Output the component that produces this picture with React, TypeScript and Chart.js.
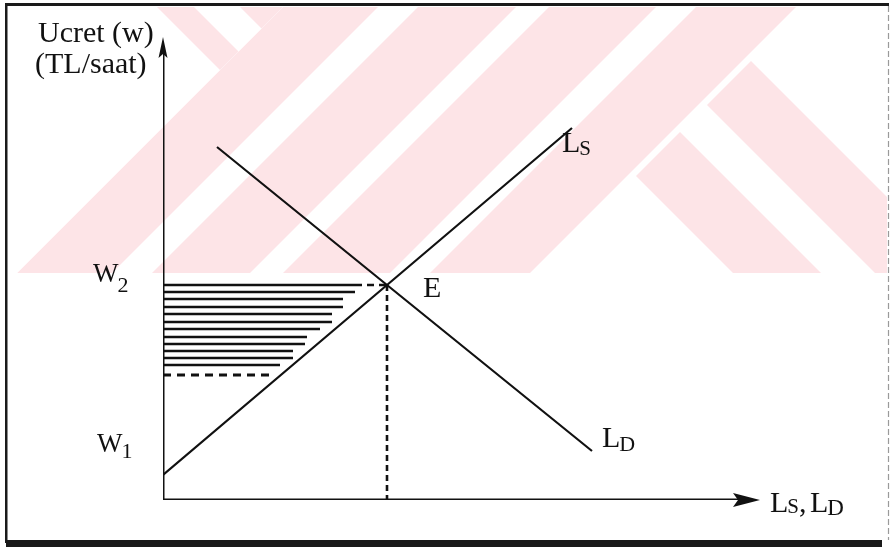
import React, { useEffect, useRef } from "react";
import { Chart, registerables } from "chart.js";

Chart.register(...registerables);

// ---- data (diagram units) ----
const LS_X = [0, 224, 409];
const LS_Y = [25, 215, 372];
const LD_X = [54, 224, 429];
const LD_Y = [353, 215, 49];
const E_POINT = [224, 215];
const W1 = 25;
const W2 = 215;
const HATCH_Y = [215, 208, 201, 193, 186, 178, 171, 163, 156, 149, 142, 135];
const HATCH_END = [192, 192, 180, 180, 169, 169, 157, 144, 142, 130, 130, 117];
const LOWER_DASH = [125, 112]; // y, end x
const X_AXIS_END = 597;
const Y_AXIS_END = 463;
const X_MAX = 600;
const Y_MAX = 465;

// watermark bands (x+y or x-y intercepts, page pixels)
const WM_A = [[150, 187], [233, 420]];
const WM_B = [[290, 385], [425, 523], [556, 663], [703, 803]];
const WM_C = [[460, 548], [602, 690]];

const SERIF = "'Liberation Serif', 'Times New Roman', serif";

function band(ctx: CanvasRenderingContext2D, c1: number, c2: number, dir: number) {
  const B = 1500;
  ctx.beginPath();
  if (dir > 0) {
    ctx.moveTo(c1 + B, -B);
    ctx.lineTo(c2 + B, -B);
    ctx.lineTo(c2 - B, B);
    ctx.lineTo(c1 - B, B);
  } else {
    ctx.moveTo(c1 - B, -B);
    ctx.lineTo(c2 - B, -B);
    ctx.lineTo(c2 + B, B);
    ctx.lineTo(c1 + B, B);
  }
  ctx.closePath();
  ctx.fill();
}

function zoneClip(ctx: CanvasRenderingContext2D, lo: number, hi: number) {
  const B = 1500;
  ctx.beginPath();
  ctx.moveTo(lo + B, -B);
  ctx.lineTo(hi + B, -B);
  ctx.lineTo(hi - B, B);
  ctx.lineTo(lo - B, B);
  ctx.closePath();
  ctx.clip();
}

const decorPlugin = {
  id: "decor",
  beforeDraw(chart: any) {
    const ctx: CanvasRenderingContext2D = chart.ctx;
    ctx.save();
    ctx.fillStyle = "#ffffff";
    ctx.fillRect(0, 0, chart.width, chart.height);
    ctx.beginPath();
    ctx.rect(9, 7, 878, 266);
    ctx.clip();
    ctx.fillStyle = "#fde4e7";
    ctx.save();
    zoneClip(ctx, -2000, 290);
    WM_A.forEach(([a, b]) => band(ctx, a, b, -1));
    ctx.restore();
    ctx.save();
    zoneClip(ctx, 290, 812);
    WM_B.forEach(([a, b]) => band(ctx, a, b, 1));
    ctx.restore();
    ctx.save();
    zoneClip(ctx, 812, 4000);
    WM_C.forEach(([a, b]) => band(ctx, a, b, -1));
    ctx.restore();
    ctx.restore();
  },
  afterDraw(chart: any) {
    const ctx: CanvasRenderingContext2D = chart.ctx;
    const xs = chart.scales.x;
    const ys = chart.scales.y;
    const px = (v: number) => xs.getPixelForValue(v);
    const py = (v: number) => ys.getPixelForValue(v);
    ctx.save();
    // frame
    ctx.fillStyle = "#1a1a1a";
    ctx.fillRect(5, 3, 884, 3);
    ctx.fillRect(5, 3, 2.5, 540);
    ctx.fillRect(6, 540, 876, 7);
    ctx.strokeStyle = "#9a9a9a";
    ctx.lineWidth = 1.2;
    ctx.setLineDash([6, 3]);
    ctx.beginPath();
    ctx.moveTo(888.5, 6);
    ctx.lineTo(888.5, 540);
    ctx.stroke();
    ctx.setLineDash([]);

    // arrowheads
    ctx.fillStyle = "#111";
    const yx = px(0);
    const yt = py(Y_AXIS_END);
    ctx.beginPath();
    ctx.moveTo(yx, yt);
    ctx.lineTo(yx + 4.5, yt + 21);
    ctx.lineTo(yx, yt + 17);
    ctx.lineTo(yx - 4.5, yt + 21);
    ctx.closePath();
    ctx.fill();
    const xt = px(X_AXIS_END);
    const xy = py(0);
    ctx.beginPath();
    ctx.moveTo(xt, xy);
    ctx.lineTo(xt - 27, xy - 7);
    ctx.lineTo(xt - 22, xy);
    ctx.lineTo(xt - 27, xy + 7);
    ctx.closePath();
    ctx.fill();

    // labels
    ctx.fillStyle = "#111";
    ctx.textBaseline = "alphabetic";
    ctx.textAlign = "left";
    ctx.font = `30px ${SERIF}`;
    ctx.fillText("Ucret (w)", 38, 42);
    ctx.fillText("(TL/saat)", 35, 73);

    const sub = (main: string, s: string, x: number, y: number, mSize: number, sSize: number, dy: number) => {
      ctx.font = `${mSize}px ${SERIF}`;
      ctx.fillText(main, x, y);
      const w = ctx.measureText(main).width;
      ctx.font = `${sSize}px ${SERIF}`;
      ctx.fillText(s, x + w - 1, y + dy);
      return x + w - 1 + ctx.measureText(s).width;
    };
    sub("W", "2", 93, py(W2) - 3, 27, 22, 10);
    sub("W", "1", 97, py(W1) - 23, 27, 22, 6);
    ctx.font = `30px ${SERIF}`;
    ctx.fillText("E", px(E_POINT[0]) + 36, py(E_POINT[1]) + 12);
    sub("L", "S", px(LS_X[2]) - 10, py(LS_Y[2]) + 24, 30, 21, 3);
    sub("L", "D", px(LD_X[2]) + 10, py(LD_Y[2]) - 4, 30, 22, 4);
    const e = sub("L", "S", px(X_AXIS_END) + 10, py(0) + 12, 30, 21, 1);
    ctx.font = `30px ${SERIF}`;
    ctx.fillText(",", e, py(0) + 12);
    sub("L", "D", e + 11, py(0) + 12, 30, 23, 3);
    ctx.restore();
  },
};

export default function App() {
  const ref = useRef<HTMLCanvasElement | null>(null);
  useEffect(() => {
    document.body.style.margin = "0";
    const seg = (pts: number[][], opts: any = {}) => ({
      data: pts.map(([x, y]) => ({ x, y })),
      borderColor: "#111",
      borderWidth: 2.2,
      pointRadius: 0,
      showLine: true,
      fill: false,
      tension: 0,
      ...opts,
    });
    const datasets: any[] = [
      seg([[0, 0], [0, Y_AXIS_END - 10]], { borderWidth: 3 }),
      seg([[0, 0], [X_AXIS_END - 15, 0]], { borderWidth: 3 }),
      ...HATCH_Y.map((y, i) => seg([[0, y], [HATCH_END[i], y]], { borderWidth: 2.6 })),
      seg([[HATCH_END[0], W2], [E_POINT[0], E_POINT[1]]], { borderWidth: 2.6, borderDash: [7, 5] }),
      seg([[0, LOWER_DASH[0]], [LOWER_DASH[1], LOWER_DASH[0]]], { borderWidth: 2.8, borderDash: [8, 6] }),
      seg([[E_POINT[0], E_POINT[1]], [E_POINT[0], 0]], { borderWidth: 2.6, borderDash: [6, 4] }),
      seg(LS_X.map((x, i) => [x, LS_Y[i]])),
      seg(LD_X.map((x, i) => [x, LD_Y[i]])),
    ];
    const chart = new Chart(ref.current as HTMLCanvasElement, {
      type: "scatter",
      data: { datasets },
      options: {
        animation: false,
        responsive: false,
        maintainAspectRatio: false,
        layout: { padding: { left: 163, right: 128, top: 35, bottom: 47 } },
        scales: {
          x: { type: "linear", min: 0, max: X_MAX, display: false },
          y: { type: "linear", min: 0, max: Y_MAX, display: false },
        },
        plugins: { legend: { display: false }, tooltip: { enabled: false } },
        events: [],
      },
      plugins: [decorPlugin],
    });
    return () => chart.destroy();
  }, []);
  return (
    <div style={{ position: "fixed", left: 0, top: 0, width: 891, height: 547 }}>
      <canvas ref={ref} width={891} height={547} style={{ width: 891, height: 547 }} />
    </div>
  );
}
